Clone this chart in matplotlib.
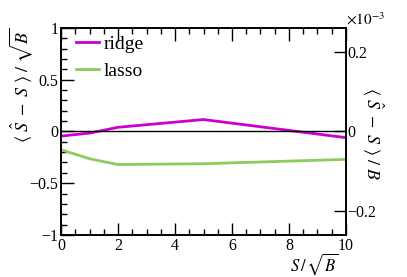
import numpy as np
import matplotlib.pyplot as plt
from matplotlib.ticker import MultipleLocator, FixedLocator

plt.rcParams['font.family'] = ['Liberation Serif', 'DejaVu Serif']
plt.rcParams['mathtext.fontset'] = 'stix'

# data
s_over_sqrtb = [0, 1, 2, 5, 10]
ridge = [-0.045, -0.016, 0.04, 0.115, -0.06]
lasso = [-0.177, -0.264, -0.32, -0.312, -0.27]

right_ticks = [-0.2, 0, 0.2]
right_labels = ['\u22120.2', '0', '0.2']

fig = plt.figure(figsize=(4.07, 2.77), dpi=100)
ax = fig.add_axes([0.150, 0.152, 0.700, 0.747])

ax.plot(s_over_sqrtb, ridge, color='#cc00cc', lw=2, label='ridge')
ax.plot(s_over_sqrtb, lasso, color='#8ccb5e', lw=2, label='lasso')
ax.axhline(0, color='black', lw=1)

ax.set_xlim(0, 10)
ax.set_ylim(-1, 1)
ax.xaxis.set_major_locator(MultipleLocator(2))
ax.xaxis.set_minor_locator(MultipleLocator(0.5))
ax.yaxis.set_minor_locator(MultipleLocator(0.1))
ax.set_yticks([-1, -0.5, 0, 0.5, 1])
ax.set_yticklabels(['\u22121', '\u22120.5', '0', '0.5', '1'])
ax.tick_params(which='both', direction='in', top=True, right=False, labelsize=11.5, width=1, pad=2)
ax.tick_params(which='major', length=9)
ax.tick_params(which='minor', length=4.5)
for sp in ax.spines.values():
    sp.set_linewidth(1.2)

ax.set_xlabel(r'$S\,/\,\sqrt{B}$', fontsize=12, loc='right')
ax.xaxis.set_label_coords(0.975, -0.08)
ax.set_ylabel(r'$\langle\ \hat{S}\ -\ S\ \rangle\ /\ \sqrt{B}$', fontsize=13, loc='top')
ax.yaxis.set_label_coords(-0.092, 1.0)

leg = ax.legend(loc='upper left', frameon=False, fontsize=14, handlelength=1.15,
                bbox_to_anchor=(0.04, 0.985), borderaxespad=0, borderpad=0.2,
                labelspacing=0.5, handletextpad=0.25)

ax2 = ax.twinx()
ax2.set_ylim(-0.259, 0.259)
ax2.yaxis.set_major_locator(FixedLocator(right_ticks))
ax2.set_yticklabels(right_labels)
ax2.tick_params(direction='in', length=9, width=1, labelsize=11.5, pad=1)
ax2.text(1.0, 1.0, r'$\times10^{-3}$', transform=ax2.transAxes, fontsize=11,
         ha='left', va='bottom')
ax2.text(1.095, 0.49, r'$\langle\ \hat{S}\ -\ S\ \rangle\ /\ B$', transform=ax2.transAxes,
         fontsize=13, rotation=270, ha='center', va='center', rotation_mode='anchor')
for sp in ax2.spines.values():
    sp.set_linewidth(1.2)

plt.savefig('out.png', dpi=100)
